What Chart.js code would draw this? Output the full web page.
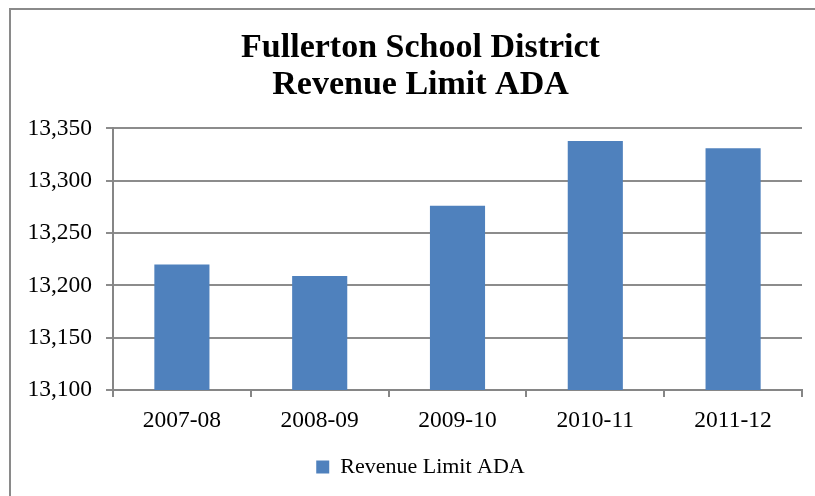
<!DOCTYPE html>
<html>
<head>
<meta charset="utf-8">
<script src="https://cdn.jsdelivr.net/npm/chart.js@4"></script>
<style>
  html, body { margin: 0; padding: 0; background: #fff; overflow: hidden; }
  #wrap { width: 815px; height: 496px; overflow: hidden; }
</style>
</head>
<body>
<div id="wrap"><canvas id="adaChart" width="831" height="496"></canvas></div>
<script>
  // Data ADA
  let years = ['2007-08', '2008-09', '2009-10', '2010-11', '2011-12'];
  let adaValues = [13220, 13209, 13276, 13338, 13331];
  let titleLines = ['Fullerton School District', 'Revenue Limit ADA'];
  let seriesLabel = 'Revenue Limit ADA';
  let yMin = 13100;
  let yMax = 13350;
  let yStep = 50;

  const serif = "'Liberation Serif', 'DejaVu Serif', serif";

  // Garis bingkai luar grafik (sisi kanan/bawah terpotong seperti aslinya)
  const frame = {
    id: 'frame',
    beforeDraw(chart) {
      const c = chart.ctx;
      c.save();
      c.strokeStyle = '#8a8a8a';
      c.lineWidth = 2;
      c.strokeRect(10, 9, 850, 520);
      c.restore();
    }
  };

  let ctx = document.getElementById('adaChart').getContext('2d');

  let adaChart = new Chart(ctx, {
    type: 'bar',
    data: {
      labels: years,
      datasets: [{
        label: seriesLabel,
        data: adaValues,
        backgroundColor: '#4F81BD',
        borderWidth: 0,
        barPercentage: 0.4,
        categoryPercentage: 1.0
      }]
    },
    options: {
      responsive: false,
      animation: false,
      layout: { padding: { top: 9, left: 10, right: 0, bottom: 8 } },
      plugins: {
        title: {
          display: true,
          text: titleLines,
          color: '#000',
          font: { family: serif, size: 34, weight: 'bold', lineHeight: 1.08 },
          padding: { top: 21, bottom: 25 }
        },
        legend: {
          display: true,
          position: 'bottom',
          labels: {
            color: '#000',
            font: { family: serif, size: 22 },
            boxWidth: 13,
            boxHeight: 13,
            padding: 10
          }
        },
        tooltip: { enabled: false }
      },
      scales: {
        x: {
          grid: {
            display: true,
            drawOnChartArea: false,
            drawTicks: true,
            tickLength: 7,
            color: '#868686',
            lineWidth: 2
          },
          border: { display: true, color: '#868686', width: 2 },
          ticks: {
            color: '#000',
            font: { family: serif, size: 23.5 },
            padding: 10,
            maxRotation: 0
          },
          afterFit(scale) { scale.height = 56; }
        },
        y: {
          min: yMin,
          max: yMax,
          grid: {
            color: '#8c8c8c',
            lineWidth: 2,
            tickLength: 7
          },
          border: { display: true, color: '#868686', width: 2 },
          ticks: {
            stepSize: yStep,
            color: '#000',
            font: { family: serif, size: 23.5 },
            padding: 14,
            callback: v => v.toLocaleString('en-US')
          },
          afterFit(scale) { scale.width = 103; }
        },
        // ruang kosong di kanan area plot
        spacer: {
          type: 'linear',
          position: 'right',
          grid: { drawOnChartArea: false, drawTicks: false },
          border: { display: false },
          ticks: { display: false },
          afterFit(scale) { scale.width = 29; }
        }
      }
    },
    plugins: [frame]
  });
</script>
</body>
</html>
